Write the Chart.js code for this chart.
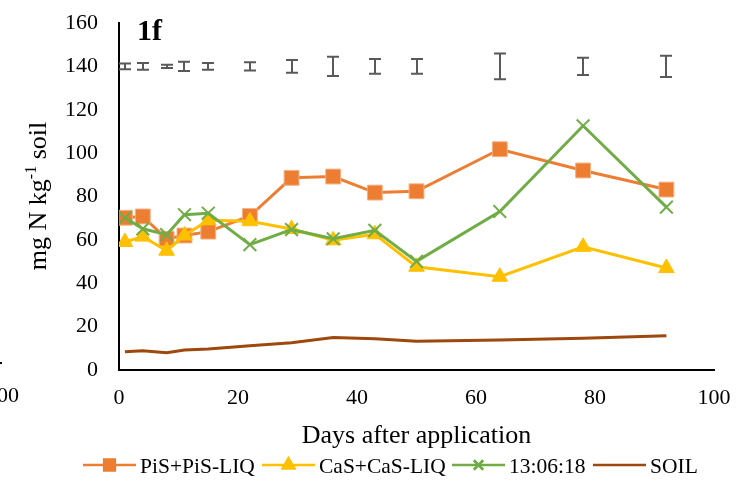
<!DOCTYPE html>
<html>
<head>
<meta charset="utf-8">
<script src="https://cdn.jsdelivr.net/npm/chart.js@4.4.1/dist/chart.umd.min.js"></script>
<style>
  html, body { margin: 0; padding: 0; background: #fff; }
  #wrap { width: 736px; height: 481px; position: relative; }
</style>
</head>
<body>
<div id="wrap"><canvas id="c" width="736" height="481"></canvas></div>
<script>
// ---- data ----
const days = [1, 4, 8, 11, 15, 22, 29, 36, 43, 50, 64, 78, 92];
const pis  = [70.2, 70.8, 60.5, 62.0, 63.8, 71.0, 88.6, 89.2, 81.8, 82.4, 101.8, 92.0, 83.2];
const cas  = [59.0, 61.5, 55.0, 62.0, 69.0, 68.6, 65.0, 59.8, 62.6, 47.6, 43.0, 56.8, 47.0];
const npk  = [70.2, 65.1, 62.4, 71.6, 72.3, 57.8, 64.7, 60.5, 64.4, 50.1, 73.1, 112.6, 75.1];
const soil = [8.4, 8.9, 8.0, 9.2, 9.7, 11.2, 12.6, 15.0, 14.4, 13.3, 13.8, 14.6, 15.8];
const errCenter = 140;
const errHalf = [1.3, 1.5, 0.8, 2.1, 1.6, 1.9, 2.9, 4.4, 3.4, 3.4, 5.9, 4.0, 4.9];
const seriesNames = ['PiS+PiS-LIQ', 'CaS+CaS-LIQ', '13:06:18', 'SOIL'];
const xTicks = [0, 20, 40, 60, 80, 100];
const yTicks = [0, 20, 40, 60, 80, 100, 120, 140, 160];

const C_PIS = '#ED7D31', C_CAS = '#FFC000', C_NPK = '#70AD47', C_SOIL = '#9E480E';
const SERIF = '"Liberation Serif", "Times New Roman", serif';

const toXY = arr => days.map((d, i) => ({ x: d, y: arr[i] }));

const extras = {
  id: 'extras',
  afterDatasetsDraw(chart) {
    const ctx = chart.ctx;
    const xs = chart.scales.x, ys = chart.scales.y;
    // error bars
    ctx.save();
    ctx.strokeStyle = '#595959';
    ctx.lineWidth = 2;
    days.forEach((d, i) => {
      const px = Math.round(xs.getPixelForValue(d));
      const top = ys.getPixelForValue(errCenter + errHalf[i]);
      const bot = ys.getPixelForValue(errCenter - errHalf[i]);
      ctx.beginPath();
      ctx.moveTo(px, top); ctx.lineTo(px, bot);
      ctx.moveTo(px - 6, top); ctx.lineTo(px + 6, top);
      ctx.moveTo(px - 6, bot); ctx.lineTo(px + 6, bot);
      ctx.stroke();
    });
    ctx.restore();
  },
  afterDraw(chart) {
    const ctx = chart.ctx;
    ctx.save();
    ctx.fillStyle = '#000';
    // panel label
    ctx.font = 'bold 30px ' + SERIF;
    ctx.textBaseline = 'alphabetic';
    ctx.textAlign = 'left';
    ctx.fillText('1f', 137, 40);

    // x title
    ctx.font = '26px ' + SERIF;
    ctx.textAlign = 'center';
    ctx.fillText('Days after application', (chart.chartArea.left + chart.chartArea.right) / 2, 443);

    // y title with superscript
    ctx.save();
    ctx.translate(46, 196);
    ctx.rotate(-Math.PI / 2);
    const f1 = '26px ' + SERIF, f2 = '16px ' + SERIF;
    const p1 = 'mg N kg', p2 = '-1', p3 = ' soil';
    ctx.font = f1; const w1 = ctx.measureText(p1).width, w3 = ctx.measureText(p3).width;
    ctx.font = f2; const w2 = ctx.measureText(p2).width;
    let x0 = -(w1 + w2 + w3) / 2;
    ctx.textAlign = 'left';
    ctx.textBaseline = 'alphabetic';
    ctx.font = f1; ctx.fillText(p1, x0, 0);
    ctx.font = f2; ctx.fillText(p2, x0 + w1, -10);
    ctx.font = f1; ctx.fillText(p3, x0 + w1 + w2, 0);
    ctx.restore();

    // legend
    const items = [
      { name: seriesNames[0], color: C_PIS, style: 'rect', x: 83 },
      { name: seriesNames[1], color: C_CAS, style: 'triangle', x: 262 },
      { name: seriesNames[2], color: C_NPK, style: 'crossRot', x: 452 },
      { name: seriesNames[3], color: C_SOIL, style: null, x: 593 }
    ];
    const ly = 465;
    items.forEach(it => {
      ctx.strokeStyle = it.color;
      ctx.lineWidth = 2.5;
      ctx.beginPath();
      ctx.moveTo(it.x, ly); ctx.lineTo(it.x + 53, ly);
      ctx.stroke();
      if (it.style) {
        Chart.helpers.drawPoint(ctx, {
          pointStyle: it.style, radius: it.style === 'rect' ? 7.5 : 6.5,
          borderWidth: 2, rotation: 0
        }, it.x + 26.5, ly);
        ctx.fillStyle = it.color;
        ctx.fill();
        ctx.stroke();
      }
      ctx.fillStyle = '#000';
      ctx.font = '21.5px ' + SERIF;
      ctx.textAlign = 'left';
      ctx.textBaseline = 'alphabetic';
      ctx.fillText(it.name, it.x + 57, ly + 8);
    });

    // remnant of neighbouring panel at the left edge
    ctx.font = '22px ' + SERIF;
    ctx.textAlign = 'right';
    ctx.fillText('100', 19, 402);
    ctx.fillRect(0, 362, 2, 2);
    ctx.restore();
  }
};

const tickFont = { family: SERIF, size: 22 };

new Chart(document.getElementById('c'), {
  type: 'line',
  data: {
    datasets: [
      { label: seriesNames[0], data: toXY(pis), borderColor: C_PIS, backgroundColor: C_PIS,
        pointStyle: 'rect', pointRadius: 10.5, pointBorderColor: '#F4B183', pointBorderWidth: 1,
        borderWidth: 3, order: 3 },
      { label: seriesNames[1], data: toXY(cas), borderColor: C_CAS, backgroundColor: C_CAS,
        pointStyle: 'triangle', pointRadius: 9, pointBorderColor: C_CAS, pointBorderWidth: 1,
        borderWidth: 3, order: 2 },
      { label: seriesNames[2], data: toXY(npk), borderColor: C_NPK, backgroundColor: C_NPK,
        pointStyle: 'crossRot', pointRadius: 9, pointBorderColor: C_NPK, pointBorderWidth: 2,
        borderWidth: 3, order: 1 },
      { label: seriesNames[3], data: toXY(soil), borderColor: C_SOIL, backgroundColor: C_SOIL,
        pointRadius: 0, borderWidth: 3, order: 4 }
    ]
  },
  options: {
    responsive: false,
    animation: false,
    events: [],
    layout: { padding: { left: 0, right: 22, top: 23, bottom: 0 } },
    plugins: { legend: { display: false }, tooltip: { enabled: false }, title: { display: false } },
    scales: {
      x: {
        type: 'linear', min: 0, max: 100,
        afterBuildTicks: s => { s.ticks = xTicks.map(v => ({ value: v })); },
        afterFit: s => { s.height = 111; s.paddingLeft = 0; s.paddingRight = 0; },
        ticks: { font: tickFont, color: '#000', padding: 15, maxRotation: 0 },
        grid: { display: false, drawTicks: false },
        border: { display: true, color: '#000', width: 2 }
      },
      y: {
        min: 0, max: 160,
        afterBuildTicks: s => { s.ticks = yTicks.map(v => ({ value: v })); },
        afterFit: s => { s.width = 119; s.paddingTop = 0; s.paddingBottom = 0; },
        ticks: { font: tickFont, color: '#000', padding: 21 },
        grid: { display: false, drawTicks: false },
        border: { display: true, color: '#000', width: 2 }
      }
    }
  },
  plugins: [extras]
});
</script>
</body>
</html>
